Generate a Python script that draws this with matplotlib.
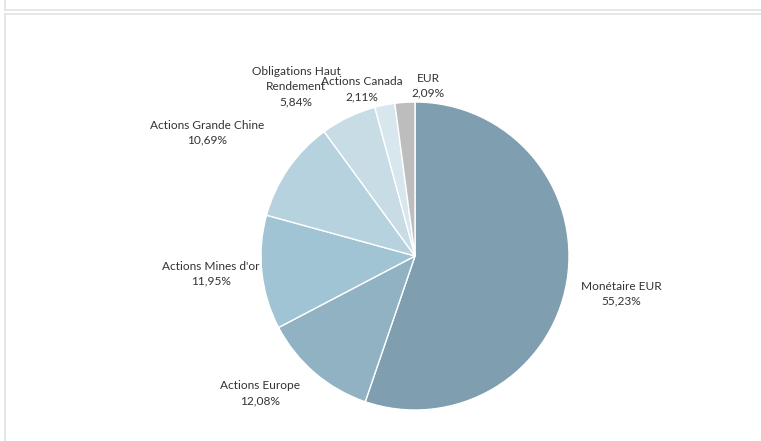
import matplotlib
matplotlib.use("Agg")
import matplotlib.pyplot as plt
from matplotlib.lines import Line2D

categories = ["Monétaire EUR", "Actions Europe", "Actions Mines d'or", "Actions Grande Chine",
              "Obligations Haut\nRendement", "Actions Canada", "EUR"]
values = [55.23, 12.08, 11.95, 10.69, 5.84, 2.11, 2.09]
value_labels = ["55,23%", "12,08%", "11,95%", "10,69%", "5,84%", "2,11%", "2,09%"]
colors = ["#7f9fb0", "#91b2c2", "#a0c4d4", "#b5d2de", "#c8dce5", "#d8e6ee", "#bdbdbd"]

# label anchor positions in pie-radius units (layout)
label_pos = [(1.340, -0.245), (-1.007, -0.889), (-1.327, -0.114), (-1.353, 0.801),
             (-0.771, 1.098), (-0.346, 1.082), (0.085, 1.105)]

W, H, DPI = 761, 441, 100
cx, cy, R = 415, 256, 154

fig = plt.figure(figsize=(W / DPI, H / DPI), dpi=DPI)
fig.patch.set_facecolor("white")

lc = "#e3e3e3"
fig.add_artist(Line2D([5 / W, 5 / W], [1, 1 - 10 / H], color=lc, lw=1.2))
fig.add_artist(Line2D([5 / W, 1], [1 - 10 / H, 1 - 10 / H], color=lc, lw=1.2))
fig.add_artist(Line2D([5 / W, 5 / W], [0, 1 - 13.5 / H], color=lc, lw=1.2))
fig.add_artist(Line2D([5 / W, 1], [1 - 13.5 / H, 1 - 13.5 / H], color=lc, lw=1.2))

ax = fig.add_axes([0, 0, 1, 1])
ax.pie(values, colors=colors, startangle=90, counterclock=False, radius=1,
       wedgeprops=dict(edgecolor="white", linewidth=1.0))
ax.set_aspect("auto")
ax.set_xlim(-cx / R, (W - cx) / R)
ax.set_ylim(-(H - cy) / R, cy / R)
ax.axis("off")

for cat, vl, (lx, ly) in zip(categories, value_labels, label_pos):
    ax.text(lx, ly, f"{cat}\n{vl}", ha="center", va="center", fontsize=8.6,
            family="Lato", color="#333333", linespacing=1.45)

fig.savefig("out.png", dpi=DPI)
